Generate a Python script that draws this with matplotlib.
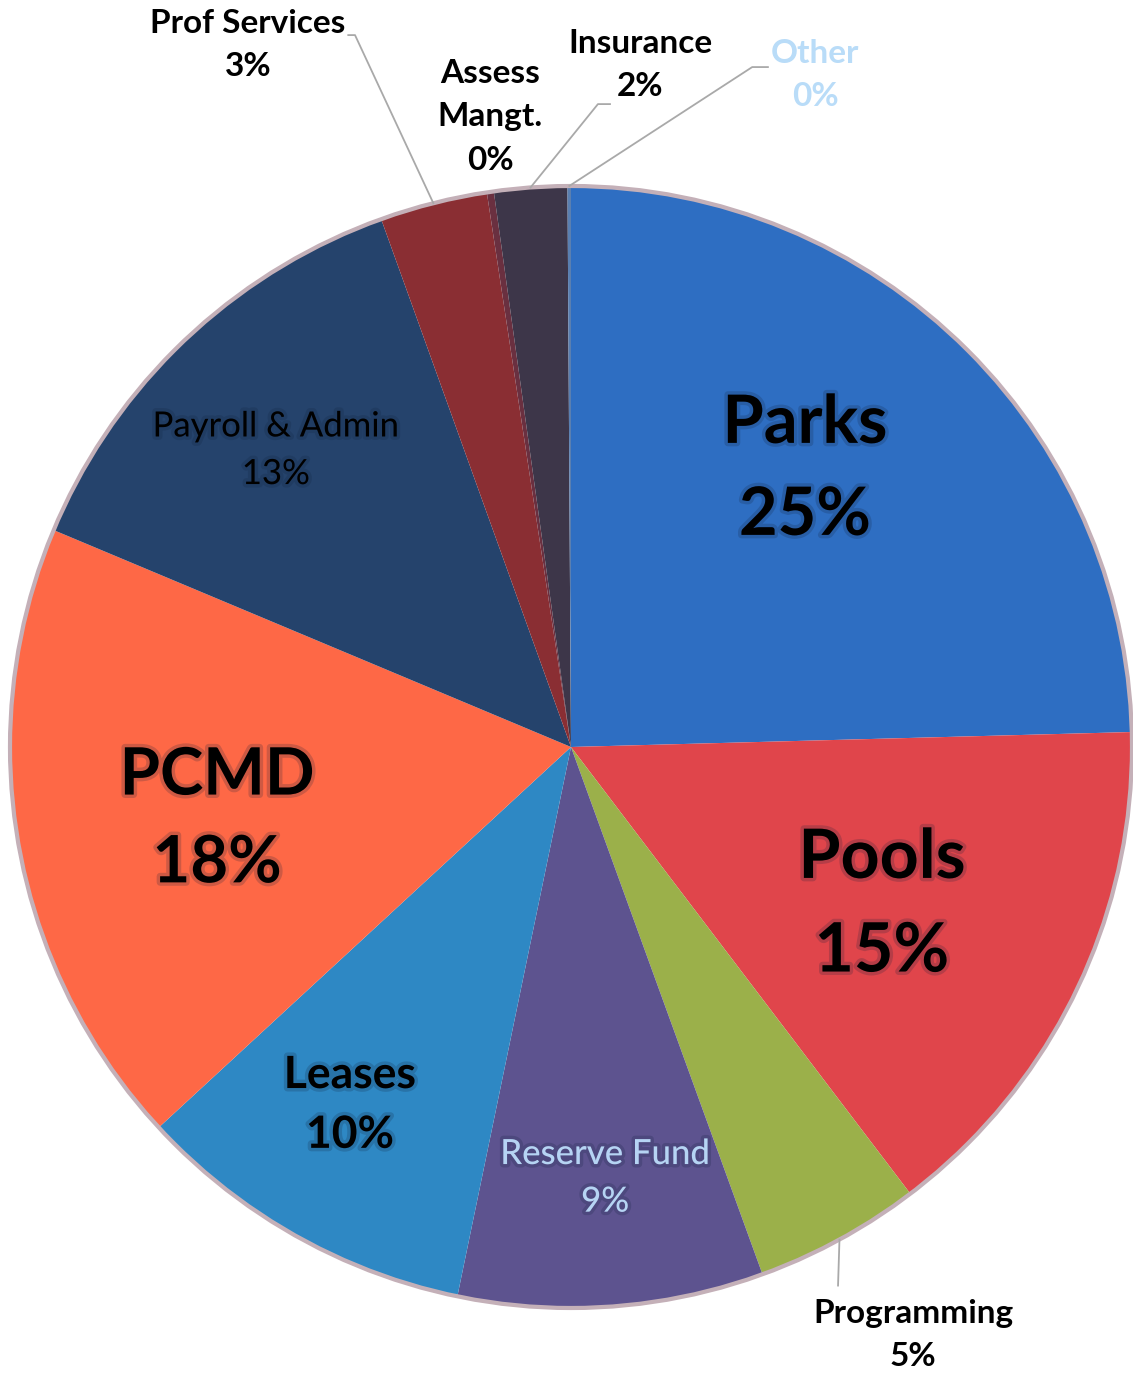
import numpy as np
import matplotlib
matplotlib.use('Agg')
import matplotlib.pyplot as plt
import matplotlib.patheffects as pe

plt.rcParams['font.family'] = ['Lato', 'DejaVu Sans']

# slices, clockwise from 12 o'clock
categories = ['Parks', 'Pools', 'Programming', 'Reserve Fund', 'Leases', 'PCMD',
              'Payroll & Admin', 'Prof Services', 'Assess\nMangt.', 'Insurance', 'Other']
values = [24.6, 15.1, 4.8, 8.8, 9.9, 18.2, 13.2, 3.1, 0.2, 2.1, 0.1]
colors = ['#2e6ec2', '#e0454b', '#9bb04a', '#5d538f', '#2e88c4', '#fe6846',
          '#25436c', '#8a2e33', '#6a3040', '#3d3649', '#5a7fb0']

# label layout (pie units, center 0,0 radius 1): x, y, size, weight, color
label_x = [0.417, 0.554, 0.610, 0.061, -0.394, -0.631, -0.526, -0.576, -0.144, 0.123, 0.435]
label_y = [0.494, -0.282, -1.048, -0.768, -0.638, -0.130, 0.529, 1.251, 1.123, 1.216, 1.198]
label_size = [48, 49, 24, 25, 32, 47, 25, 24, 24, 24, 24]
label_weight = ['bold', 'bold', 'bold', 'medium', 'bold', 'bold', 'normal',
                'bold', 'bold', 'bold', 'bold']
label_color = ['black', 'black', 'black', '#b6d4f4', 'black', 'black', 'black',
               'black', 'black', 'black', '#b9dcf8']
inside = [True, True, False, True, True, True, True, False, False, False, False]
# leader line knee points for outside labels
leader = {2: [(0.476, -0.96)],
          7: [(-0.397, 1.269), (-0.385, 1.269)],
          9: [(0.0695, 1.146), (0.048, 1.146)],
          10: [(0.351, 1.212), (0.323, 1.212)]}

fig = plt.figure(figsize=(11.33, 13.75), dpi=100)
ax = fig.add_axes([0, 0, 1, 1])

wedges, _ = ax.pie(values, colors=colors, startangle=90, counterclock=False,
                   radius=1.0, wedgeprops=dict(linewidth=0))
circle = plt.Circle((0, 0), 1.0, fill=False, edgecolor='#c4b0b8', linewidth=3)
ax.add_patch(circle)

total = sum(values)
for i, (name, v) in enumerate(zip(categories, values)):
    pct = int(round(v / total * 100))
    txt = f'{name}\n{pct}%'
    effects = []
    if inside[i]:
        effects = [pe.withStroke(linewidth=5, foreground='#10203a', alpha=0.2)]
    ax.text(label_x[i], label_y[i], txt, ha='center', va='center',
            fontsize=label_size[i], fontweight=label_weight[i],
            color=label_color[i], linespacing=1.6, path_effects=effects)
    if i in leader:
        w = wedges[i]
        ang = np.deg2rad((w.theta1 + w.theta2) / 2)
        pts = leader[i] + [(np.cos(ang), np.sin(ang))]
        xs, ys = zip(*pts)
        ax.plot(xs, ys, color='#a9a9a9', linewidth=1.3)

ax.set_xlim(-571 / 561, 562 / 561)
ax.set_ylim(-628 / 561, 747 / 561)
ax.set_aspect('equal')
ax.axis('off')

plt.savefig('out.png', dpi=100, facecolor='white')
